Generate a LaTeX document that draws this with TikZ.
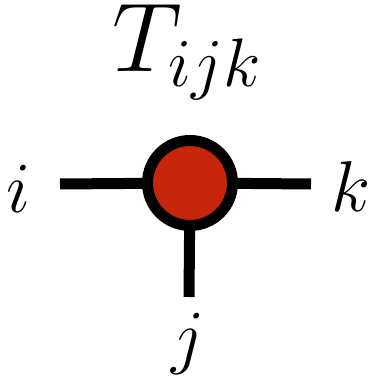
\RequirePackage{fix-cm}
\documentclass[tikz,border=0pt]{standalone}
\usetikzlibrary{backgrounds}
\definecolor{tred}{RGB}{200,38,10}
\begin{document}
\begin{tikzpicture}[x=1pt,y=1pt,
  leg/.style={line width=11pt},
  lbl/.style={anchor=base,inner sep=0pt,font=\fontsize{72}{80}\selectfont},
  ttl/.style={anchor=base,inner sep=0pt,font=\fontsize{98}{110}\selectfont},
  tensor/.style={circle,draw=black,line width=11pt,fill=tred,minimum size=85pt,inner sep=0pt}]
\useasboundingbox (0,0) rectangle (372,379);
\node[tensor] (T) at (190,196) {};
\coordinate (ei) at (60,195);
\coordinate (ek) at (311,195);
\coordinate (ej) at (189,82);
\begin{scope}[on background layer]
\draw[leg] (ei) -- (T.center);
\draw[leg] (ek) -- (T.center);
\draw[leg] (ej) -- (T.center);
\end{scope}
\node[lbl] (li) at (19,166) {$i$};
\node[lbl] (lk) at (351,167) {$k$};
\node[lbl] (lj) at (188,18) {$j$};
\node[ttl] (title) at (187,307) {$T_{ijk}$};
\end{tikzpicture}
\end{document}
